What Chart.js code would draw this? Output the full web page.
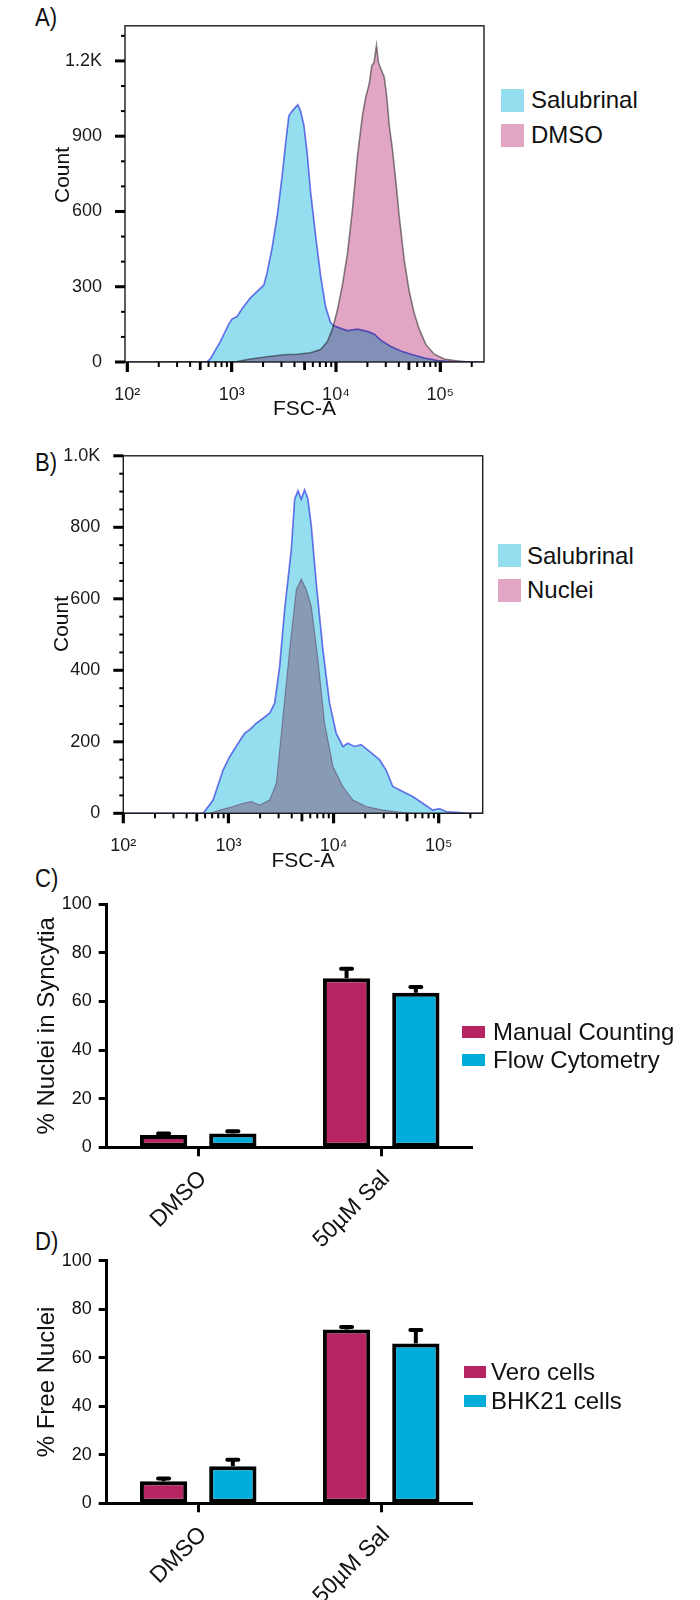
<!DOCTYPE html>
<html>
<head>
<meta charset="utf-8">
<script src="https://cdn.jsdelivr.net/npm/chart.js@4.4.1/dist/chart.umd.min.js"></script>
<style>
html,body{margin:0;padding:0;background:#fff;width:700px;height:1600px;overflow:hidden;font-family:"Liberation Sans",Arial,sans-serif;}
canvas{position:absolute;left:0;display:block;}
.letter{position:absolute;left:35px;font-size:26px;line-height:26px;color:#111;transform:scaleX(0.85);transform-origin:left center;white-space:nowrap;}
.ytitle{position:absolute;font-size:21px;line-height:21px;color:#111;white-space:nowrap;transform:translate(-50%,-50%) rotate(-90deg);}
</style>
</head>
<body>
<div class="letter" style="top:4px">A)</div>
<div class="letter" style="top:449px">B)</div>
<div class="letter" style="top:865px">C)</div>
<div class="letter" style="top:1228px">D)</div>
<canvas id="cA" width="490" height="440" style="top:0px"></canvas>
<canvas id="cB" width="490" height="450" style="top:430px"></canvas>
<canvas id="cC" width="480" height="410" style="top:860px"></canvas>
<canvas id="cD" width="480" height="380" style="top:1220px"></canvas>
<script>
// ---------------- DATA ----------------
// Panel A: FSC-A histogram (x = FSC-A value, y = count)
const fscA_salubrinal = [95, 579, 624, 778, 936, 1007, 1125, 1257, 1511, 1818, 2031, 2187, 2443, 2730, 3051, 3283, 3533, 3802, 4093, 4311, 4574, 4922, 5297, 5700, 6369, 7119, 7955, 8890, 9569, 11095, 12863, 16032, 19983, 23172, 26869, 33565, 41853, 52241, 70205, 94196, 126710, 262144];
const countA_salubrinal = [0, 0, 12, 81, 150, 171, 181, 212, 256, 287, 306, 356, 456, 581, 744, 869, 981, 1000, 1016, 1025, 1000, 944, 831, 681, 506, 344, 219, 156, 144, 134, 125, 131, 122, 112, 87, 62, 44, 31, 16, 6, 2, 0];
const fscA_dmso = [95, 1125, 1511, 2187, 3162, 4246, 5700, 7119, 8260, 9225, 10304, 11508, 12863, 14364, 16032, 17906, 19275, 20754, 22029, 23172, 24429, 25527, 26869, 28943, 30704, 32359, 34834, 37497, 40364, 45082, 50350, 56233, 62806, 72778, 87498, 109168, 136403, 170230, 197242, 262144];
const countA_dmso = [0, 2, 12, 21, 29, 31, 37, 50, 81, 131, 206, 306, 431, 606, 819, 981, 1056, 1106, 1181, 1194, 1262, 1194, 1169, 1137, 1056, 944, 844, 719, 581, 406, 281, 194, 131, 69, 31, 12, 6, 2, 0, 0];

// Panel B
const fscB_salubrinal = [100, 575, 714, 889, 1030, 1236, 1430, 1595, 1845, 2134, 2467, 2753, 3069, 3425, 3963, 4266, 4586, 4929, 5305, 5702, 6138, 6842, 7918, 9160, 10594, 12263, 13681, 15820, 18317, 21972, 27353, 31623, 36574, 45499, 56623, 70469, 87706, 101393, 117462, 195429, 262144];
const countB_salubrinal = [0, 0, 37, 121, 159, 196, 224, 234, 252, 266, 280, 308, 411, 570, 738, 879, 902, 879, 905, 879, 804, 645, 458, 308, 224, 187, 196, 187, 192, 173, 150, 121, 75, 61, 47, 28, 9, 13, 5, 0, 0];
const fscB_nuclei = [100, 665, 828, 1107, 1377, 1652, 1982, 2467, 2856, 3305, 3822, 4424, 4929, 5504, 6138, 7099, 8218, 9863, 12263, 15268, 20427, 29397, 45499, 60954, 262144];
const countB_nuclei = [0, 0, 9, 19, 28, 33, 23, 37, 84, 271, 458, 626, 655, 626, 579, 430, 252, 131, 75, 37, 19, 9, 2, 0, 0];

// Histogram tick labels
const xTickValues = [100, 1000, 10000, 100000];
const xTickLabels = ['10\u00B2', '10\u00B3', '10\u2074', '10\u2075'];
const yTicksA = [0, 300, 600, 900, 1200];
const yTickLabelsA = ['0', '300', '600', '900', '1.2K'];
const yTicksB = [0, 200, 400, 600, 800, 1000];
const yTickLabelsB = ['0', '200', '400', '600', '800', '1.0K'];

// Panels C & D: bar charts
const barCategories = ['DMSO', '50\u00B5M Sal'];
const manualCounting = [5.1, 69.6];
const manualCountingErr = [0.6, 3.9];
const flowCytometry = [5.7, 63.6];
const flowCytometryErr = [0.9, 2.4];
const veroCells = [9.1, 71.6];
const veroCellsErr = [1.1, 1.1];
const bhk21Cells = [15.3, 65.9];
const bhk21CellsErr = [2.7, 5.5];
const barYTicks = [0, 20, 40, 60, 80, 100];
const barYTickLabels = ['0', '20', '40', '60', '80', '100'];

// ---------------- STYLE ----------------
const FONT = '"Liberation Sans", Arial, "DejaVu Sans", sans-serif';
const CYAN_FILL = 'rgb(148,222,240)';
const PINK_FILL = 'rgb(224,166,196)';
const NUCLEI_FILL = 'rgb(232,178,192)';
const MAGENTA = 'rgb(183,36,98)';
const BLUE = 'rgb(0,172,218)';

Chart.defaults.font.family = FONT;

function toPoints(xs, ys) { return xs.map((x, i) => ({ x: x, y: ys[i] })); }

function logTickValues(min, max) {
  const out = [];
  for (let e = 1; e <= 6; e++) {
    for (let k = 1; k <= 9; k++) {
      const v = k * Math.pow(10, e);
      if (v >= min && v <= max) out.push(v);
    }
  }
  return out;
}

const overlayBlend = {
  id: 'overlayBlend',
  beforeDatasetsDraw(chart) { chart.ctx.save(); chart.ctx.globalCompositeOperation = 'multiply'; },
  afterDatasetsDraw(chart) { chart.ctx.restore(); }
};

const histFrame = {
  id: 'histFrame',
  afterDraw(chart, args, o) {
    const ctx = chart.ctx, a = chart.chartArea, x = chart.scales.x, y = chart.scales.y;
    ctx.save();
    ctx.strokeStyle = '#1c1c1c';
    ctx.lineWidth = 1.4;
    ctx.strokeRect(a.left, a.top, a.right - a.left, a.bottom - a.top);
    ctx.strokeStyle = '#000';
    y.ticks.forEach(t => {
      const p = y.getPixelForValue(t.value);
      const major = o.yMajor.indexOf(t.value) >= 0;
      ctx.lineWidth = major ? 3 : 2;
      ctx.beginPath();
      ctx.moveTo(a.left - (major ? 10 : 4), p);
      ctx.lineTo(a.left, p);
      ctx.stroke();
    });
    x.ticks.forEach(t => {
      const p = x.getPixelForValue(t.value);
      const major = xTickValues.indexOf(t.value) >= 0;
      const lead = t.value / Math.pow(10, Math.floor(Math.log10(t.value) + 1e-9));
      const mid = Math.abs(lead - 5) < 1e-6;
      ctx.lineWidth = major ? 3.2 : (mid ? 2.8 : 2);
      ctx.beginPath();
      ctx.moveTo(p, a.bottom);
      ctx.lineTo(p, a.bottom + (major ? 10 : (mid ? 8 : 5)));
      ctx.stroke();
    });
    ctx.restore();
  }
};

const errorBars = {
  id: 'errorBars',
  afterDatasetsDraw(chart) {
    const ctx = chart.ctx, y = chart.scales.y;
    ctx.save();
    ctx.strokeStyle = '#000';
    chart.data.datasets.forEach((ds, i) => {
      const meta = chart.getDatasetMeta(i);
      meta.data.forEach((bar, j) => {
        const top = y.getPixelForValue(ds.data[j] + ds.errors[j]);
        ctx.lineWidth = 4;
        ctx.lineCap = 'butt';
        ctx.beginPath(); ctx.moveTo(bar.x, bar.y); ctx.lineTo(bar.x, top); ctx.stroke();
        ctx.lineCap = 'round';
        ctx.beginPath(); ctx.moveTo(bar.x - 5.5, top); ctx.lineTo(bar.x + 5.5, top); ctx.stroke();
      });
    });
    ctx.restore();
  }
};

function histChart(id, cfg) {
  return new Chart(document.getElementById(id), {
    type: 'line',
    data: { datasets: cfg.datasets },
    options: {
      responsive: false, animation: false,
      layout: { padding: { left: 0, top: cfg.padTop, right: cfg.padRight, bottom: 0 } },
      plugins: { legend: { display: false }, tooltip: { enabled: false }, histFrame: { yMajor: cfg.yMajor } },
      elements: { point: { radius: 0 }, line: { tension: 0 } },
      scales: {
        x: {
          type: 'logarithmic', min: cfg.xMin, max: cfg.xMax,
          afterBuildTicks: s => { s.ticks = logTickValues(cfg.xMin, cfg.xMax).map(v => ({ value: v })); },
          afterFit: s => { s.height = cfg.xHeight; },
          grid: { display: false }, border: { display: false },
          ticks: {
            autoSkip: false, minRotation: 0, maxRotation: 0, padding: cfg.xTickPad, color: '#1a1a1a',
            font: { size: 18, family: FONT },
            callback: v => { const i = xTickValues.indexOf(v); return i >= 0 ? xTickLabels[i] : ''; }
          },
          title: { display: true, text: 'FSC-A', color: '#111', font: { size: 21, family: FONT, lineHeight: 1.2 }, padding: { top: 0, bottom: cfg.xTitlePad } }
        },
        y: {
          type: 'linear', min: 0, max: cfg.yMax,
          afterBuildTicks: s => { s.ticks = cfg.yAll.map(v => ({ value: v })); },
          afterFit: s => { s.width = cfg.yWidth; },
          grid: { display: false }, border: { display: false },
          ticks: {
            autoSkip: false, padding: cfg.yTickPad, color: '#1a1a1a',
            font: { size: 18, family: FONT },
            callback: v => { const i = cfg.yMajor.indexOf(v); return i >= 0 ? cfg.yLabels[i] : ''; }
          },
          title: { display: false }
        }
      }
    },
    plugins: [overlayBlend, histFrame]
  });
}

function barChart(id, cfg) {
  return new Chart(document.getElementById(id), {
    type: 'bar',
    data: { labels: barCategories, datasets: cfg.datasets },
    options: {
      responsive: false, animation: false,
      layout: { padding: { left: 0, top: cfg.padTop, right: cfg.padRight, bottom: 0 } },
      plugins: { legend: { display: false }, tooltip: { enabled: false } },
      datasets: { bar: { categoryPercentage: 0.757, barPercentage: 0.683, borderWidth: 4, borderColor: '#000', borderSkipped: false } },
      scales: {
        x: {
          afterFit: s => { s.height = cfg.xHeight; },
          grid: { display: true, drawOnChartArea: false, offset: false, tickLength: 9, tickWidth: 3, tickColor: '#000' },
          border: { display: true, width: 3, color: '#000' },
          ticks: { autoSkip: false, minRotation: 45, maxRotation: 45, padding: 9, labelOffset: 5, color: '#111', font: { size: 23, family: FONT } }
        },
        y: {
          min: 0, max: 100,
          afterBuildTicks: s => { s.ticks = barYTicks.map(v => ({ value: v })); },
          afterFit: s => { s.width = cfg.yWidth; },
          grid: { display: true, drawOnChartArea: false, tickLength: 8, tickWidth: 3, tickColor: '#000' },
          border: { display: true, width: 3, color: '#000' },
          ticks: { padding: 7, color: '#111', font: { size: 18, family: FONT }, callback: v => barYTickLabels[barYTicks.indexOf(v)] },
          title: { display: true, text: cfg.yTitle, color: '#111', font: { size: 24, family: FONT, lineHeight: 1.2 }, padding: { top: cfg.yTitlePad, bottom: 0 } }
        }
      }
    },
    plugins: [errorBars]
  });
}

function buildLegend(chart, spec) {
  chart.data.datasets.forEach((ds, i) => {
    const cy = spec.centers[i];
    const sw = document.createElement('div');
    sw.style.cssText = 'position:absolute;left:' + spec.swX + 'px;top:' + (cy - spec.swH / 2) + 'px;width:' + spec.swW + 'px;height:' + spec.swH + 'px;background:' + (ds.legendColor || ds.backgroundColor) + ';';
    const tx = document.createElement('div');
    tx.textContent = ds.label;
    tx.style.cssText = 'position:absolute;left:' + spec.txX + 'px;top:' + (cy - 12) + 'px;font-size:24px;line-height:24px;white-space:nowrap;color:#111;font-family:' + FONT + ';';
    document.body.appendChild(sw);
    document.body.appendChild(tx);
  });
}

function yTitle(text, cx, cy) {
  const d = document.createElement('div');
  d.className = 'ytitle';
  d.textContent = text;
  d.style.left = cx + 'px';
  d.style.top = cy + 'px';
  document.body.appendChild(d);
}

// ---------------- CHARTS ----------------
const chartA = histChart('cA', {
  datasets: [
    { label: 'Salubrinal', data: toPoints(fscA_salubrinal, countA_salubrinal), fill: 'origin', backgroundColor: CYAN_FILL, borderColor: 'rgb(122,122,240)', borderWidth: 1.7, order: 0 },
    { label: 'DMSO', data: toPoints(fscA_dmso, countA_dmso), fill: 'origin', backgroundColor: PINK_FILL, borderColor: 'rgb(138,138,138)', borderWidth: 1.6, order: 1 }
  ],
  xMin: 95, xMax: 262144, yMax: 1340,
  yAll: [0, 100, 200, 300, 400, 500, 600, 700, 800, 900, 1000, 1100, 1200, 1300],
  yMajor: yTicksA, yLabels: yTickLabelsA,
  padTop: 4, padRight: 6, xHeight: 78, yWidth: 125,
  xTickPad: 14.5, xTitlePad: 18.4, yTickPad: 15
});
yTitle('Count', 61, 175);
buildLegend(chartA, { swX: 501, swW: 23, swH: 23, txX: 531, centers: [100, 135] });

const chartB = histChart('cB', {
  datasets: [
    { label: 'Salubrinal', data: toPoints(fscB_salubrinal, countB_salubrinal), fill: 'origin', backgroundColor: CYAN_FILL, borderColor: 'rgb(122,122,240)', borderWidth: 1.7, order: 0 },
    { label: 'Nuclei', data: toPoints(fscB_nuclei, countB_nuclei), fill: 'origin', backgroundColor: NUCLEI_FILL, legendColor: PINK_FILL, borderColor: 'rgb(205,165,185)', borderWidth: 1.2, order: 1 }
  ],
  xMin: 100, xMax: 262144, yMax: 1000,
  yAll: [0, 50, 100, 150, 200, 250, 300, 350, 400, 450, 500, 550, 600, 650, 700, 750, 800, 850, 900, 950, 1000],
  yMajor: yTicksB, yLabels: yTickLabelsB,
  padTop: 25, padRight: 7.3, xHeight: 66.7, yWidth: 123.3,
  xTickPad: 13.9, xTitlePad: 5.7, yTickPad: 15
});
yTitle('Count', 60, 624);
buildLegend(chartB, { swX: 498, swW: 23, swH: 23, txX: 527, centers: [555.7, 590] });

const chartC = barChart('cC', {
  datasets: [
    { label: 'Manual Counting', data: manualCounting, errors: manualCountingErr, backgroundColor: MAGENTA },
    { label: 'Flow Cytometry', data: flowCytometry, errors: flowCytometryErr, backgroundColor: BLUE }
  ],
  yTitle: '% Nuclei in Syncytia',
  padTop: 44.3, padRight: 7.3, xHeight: 122.7, yWidth: 106.7, yTitlePad: 32.6
});
buildLegend(chartC, { swX: 462, swW: 23, swH: 12, txX: 493, centers: [1032.3, 1060] });

const chartD = barChart('cD', {
  datasets: [
    { label: 'Vero cells', data: veroCells, errors: veroCellsErr, backgroundColor: MAGENTA },
    { label: 'BHK21 cells', data: bhk21Cells, errors: bhk21CellsErr, backgroundColor: BLUE }
  ],
  yTitle: '% Free Nuclei',
  padTop: 40.7, padRight: 7.3, xHeight: 96.7, yWidth: 106.7, yTitlePad: 32.6
});
buildLegend(chartD, { swX: 464, swW: 22, swH: 12, txX: 491, centers: [1371.7, 1400.7] });
</script>
</body>
</html>
